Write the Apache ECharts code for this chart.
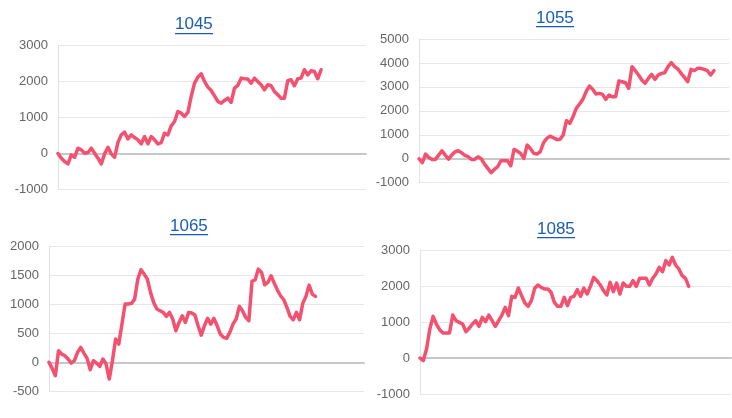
<!DOCTYPE html>
<html><head><meta charset="utf-8">
<script src="https://cdn.jsdelivr.net/npm/echarts@6/dist/echarts.min.js"></script>
<style>html,body{margin:0;padding:0;background:#fff}#c{width:732px;height:418px}</style>
</head><body><div id="c"></div>
<script>
const titles = ['1045', '1055', '1065', '1085'];
const s1045 = [0,-130,-223,-288,-37,-102,149,102,9,28,149,9,-130,-288,-9,176,-9,-102,306,520,594,409,520,446,381,269,474,269,474,381,269,306,566,520,771,891,1170,1124,1031,1142,1588,1959,2126,2219,2006,1848,1755,1606,1449,1402,1476,1541,1421,1820,1894,2098,2080,2071,1959,2098,2006,1913,1773,1913,1885,1727,1634,1541,1541,2024,2052,1885,2080,2098,2331,2191,2303,2284,2080,2331];
const s1055 = [0,-167,195,56,-28,-28,153,334,153,-14,153,292,334,251,139,84,-28,-28,84,0,-223,-404,-585,-446,-334,-84,-84,-84,-292,390,320,223,14,571,432,223,195,292,669,850,947,877,808,808,989,1588,1476,1755,2103,2284,2479,2799,3036,2897,2702,2730,2688,2479,2660,2591,2591,3245,3217,3175,2939,3844,3677,3496,3287,3148,3357,3524,3315,3496,3565,3593,3844,4011,3844,3747,3565,3398,3217,3733,3677,3774,3774,3733,3677,3496,3677];
const s1065 = [0,-104,-230,202,144,115,58,-12,29,173,259,161,69,-127,29,-12,-69,58,-29,-288,29,403,317,662,1008,1008,1020,1094,1440,1601,1527,1440,1210,1037,922,893,864,795,864,749,547,691,806,691,864,853,818,634,472,634,760,662,760,634,490,432,415,518,662,749,968,893,778,720,1400,1429,1613,1555,1342,1382,1498,1371,1250,1152,1083,950,795,737,864,737,1020,1141,1336,1181,1141];
const s1085 = [0,-74,250,806,1157,944,787,694,694,694,1194,1037,991,944,731,824,944,1037,880,1130,1009,1194,1037,880,1037,1194,1407,1176,1713,1685,1944,1731,1528,1435,1593,1935,2028,1963,1917,1917,1824,1546,1435,1435,1685,1454,1685,1713,1898,1713,1944,1778,1991,2241,2148,2028,1870,1750,2102,1843,2083,1778,2083,1991,1991,2148,1991,2213,2213,2213,2028,2213,2333,2519,2398,2704,2583,2796,2583,2472,2287,2213,1991];
const seriesData = [s1045, s1055, s1065, s1085];
const yMin = [-1000, -1000, -500, -1000];
const yMax = [3000, 5000, 2000, 3000];
const yStep = [1000, 1000, 500, 1000];
const xSpan = [92.5, 94.6, 99.3, 94.9];

const grids = [
  {left: 58, right: 366, top: 45.7, bottom: 228.5},
  {left: 419, right: 3, top: 39, bottom: 235.3},
  {left: 49, right: 368, top: 246.7, bottom: 26.7},
  {left: 420, right: 1, top: 250, bottom: 24}
];
const titlePos = [
  {x: 194, top: 16, ul: 33},
  {x: 555, top: 10, ul: 26},
  {x: 189, top: 218, ul: 234},
  {x: 556, top: 221, ul: 237}
];
const blue = '#1a5db4';
const font = 'Arial, "Liberation Sans", sans-serif';
const titleW = 38;

const chart = echarts.init(document.getElementById('c'), null, {renderer: 'canvas'});
const option = {
  animation: false,
  backgroundColor: '#fff',
  title: titles.map((t, i) => ({
    text: t, left: titlePos[i].x - titleW / 2, top: titlePos[i].top, padding: 0,
    textStyle: {color: blue, fontSize: 17, fontWeight: 'normal', fontFamily: font}
  })),
  graphic: titles.map((t, i) => ({
    type: 'rect', shape: {x: titlePos[i].x - titleW / 2, y: titlePos[i].ul, width: titleW, height: 1.3},
    style: {fill: blue}, silent: true
  })),
  grid: grids,
  xAxis: grids.map((g, i) => ({
    type: 'value', gridIndex: i, min: 0, max: xSpan[i],
    axisLine: {show: true, onZero: true, lineStyle: {color: '#c8c8c8', width: 2}},
    axisTick: {show: false}, axisLabel: {show: false}, splitLine: {show: false}
  })),
  yAxis: grids.map((g, i) => ({
    type: 'value', gridIndex: i, min: yMin[i], max: yMax[i], interval: yStep[i],
    axisLine: {show: true, lineStyle: {color: '#e2e2e2', width: 1}},
    axisTick: {show: false},
    axisLabel: {color: '#666', fontSize: 13, fontFamily: font, margin: 10, formatter: v => String(v)},
    splitLine: {show: true, lineStyle: {color: '#e6e6e6', width: 1}}
  })),
  series: seriesData.map((d, i) => ({
    type: 'line', xAxisIndex: i, yAxisIndex: i,
    data: d.map((v, k) => [k, v]),
    symbol: 'none', smooth: false,
    lineStyle: {color: '#f4506f', width: 3.5, join: 'round', cap: 'round'}
  }))
};
chart.setOption(option);
</script></body></html>
